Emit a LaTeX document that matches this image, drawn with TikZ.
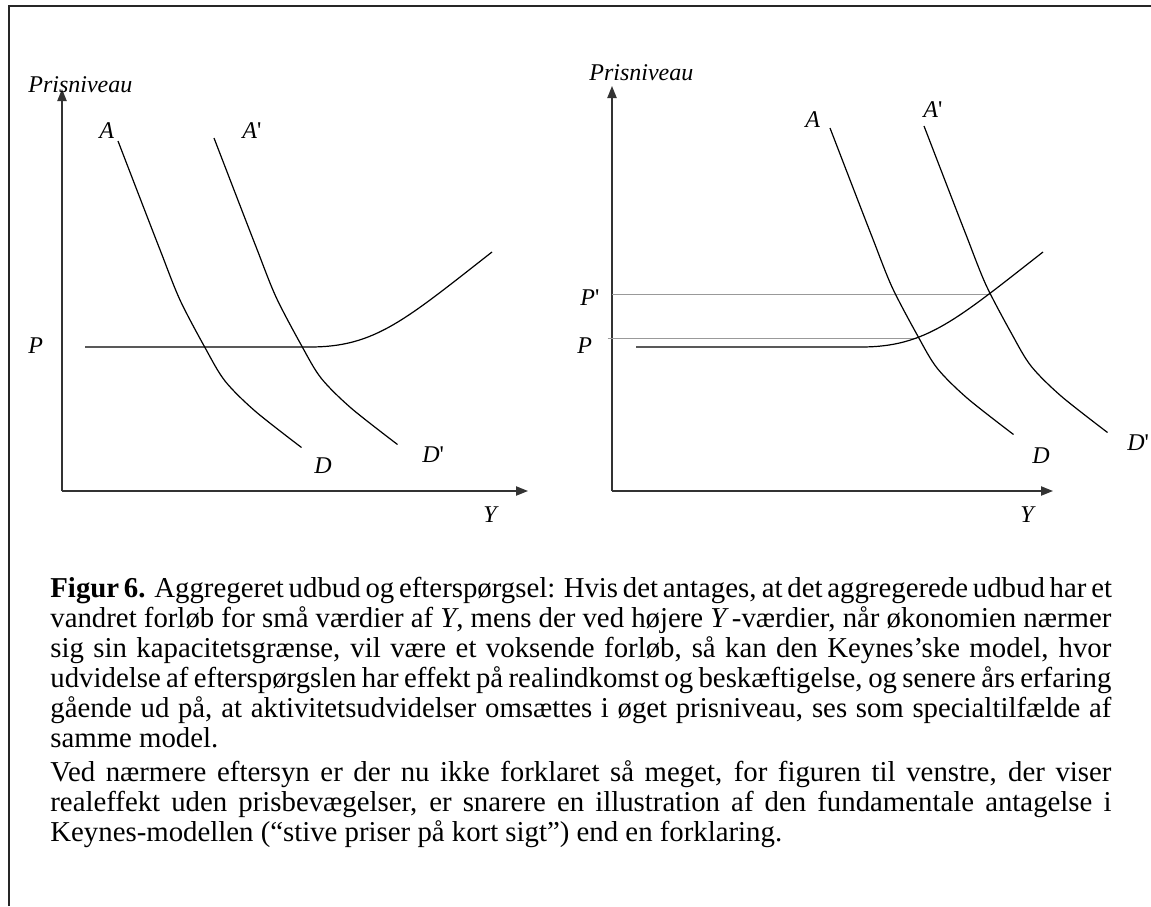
\documentclass[tikz,border=0pt]{standalone}
\usepackage{fontspec}
\setmainfont{Liberation Serif}
\newfontfamily\labfont{Liberation Serif}
\usetikzlibrary{arrows.meta}
\newcommand\pr{\textup{'}}
\begin{document}
\begin{tikzpicture}[x=0.5pt,y=-0.5pt,
  frameline/.style={line width=1pt,draw=black!85},
  axis/.style={line width=0.8pt,draw=black!80,-{Triangle[length=6pt,width=4.6pt]}},
  curve/.style={line width=0.6pt,draw=black},
  guide/.style={line width=0.6pt,draw=black!40},
  lab/.style={inner sep=0pt,anchor=base west,font=\fontsize{12}{14}\selectfont\labfont\itshape},
  capline/.style={inner sep=0pt,anchor=base west,font=\fontsize{14.4}{15}\selectfont}]
\useasboundingbox (0,0) rectangle (1151,906);
% frame (top and left edges)
\coordinate (F1) at (9,906);
\coordinate (F2) at (9,6);
\coordinate (F3) at (1151,6);
\draw[frameline] (F1) -- (F2) -- (F3);

% ---------- left diagram ----------
\coordinate (O1) at (62,491);
\coordinate (T1) at (62,89);
\coordinate (X1) at (528,491);
\draw[axis] (O1) -- (T1);
\draw[axis] (O1) -- (X1);
\node[lab] (prisL) at (28,92) {Prisniveau};
\node[lab] (PL) at (28,353) {P};
\node[lab] (YL) at (483,522) {Y};
\node[lab] (AL) at (99,138) {A};
\node[lab] (A2L) at (242,138) {A\pr};
\node[lab] (DL) at (314,473) {D};
\node[lab] (D2L) at (422,462) {D\pr};
% AD curves
\draw[curve,shift={(118,141)}] plot[smooth,tension=0.5] coordinates {(0,0) (23.5,61) (42.5,110) (62,159) (87.5,207.5) (107,240) (137,270) (183.5,306.5)};
\draw[curve,shift={(214,138)}] plot[smooth,tension=0.5] coordinates {(0,0) (23.5,61) (42.5,110) (62,159) (87.5,207.5) (107,240) (137,270) (183.5,306.5)};
% AS curve
\coordinate (S1a) at (85,347);
\coordinate (S1b) at (310,347);
\coordinate (S1c) at (492,252);
\draw[curve] (S1a) -- (S1b) .. controls (375,347) and (405,320) .. (S1c);

% ---------- right diagram ----------
\coordinate (O2) at (612,491);
\coordinate (T2) at (612,86);
\coordinate (X2) at (1053,491);
\draw[axis] (O2) -- (T2);
\draw[axis] (O2) -- (X2);
\node[lab] (prisR) at (589,80) {Prisniveau};
\node[lab] (P2R) at (580,305) {P\pr};
\node[lab] (PR) at (577,353) {P};
\node[lab] (YR) at (1020,522) {Y};
\node[lab] (AR) at (805,127) {A};
\node[lab] (A2R) at (923,117) {A\pr};
\node[lab] (DR) at (1032,463) {D};
\node[lab] (D2R) at (1127,450) {D\pr};
% guide lines
\coordinate (G1) at (612,294.5);
\coordinate (E2) at (990,294.5);
\coordinate (G2) at (607.5,338.5);
\coordinate (E1) at (917,338.5);
\draw[guide] (G1) -- (E2);
\draw[guide] (G2) -- (E1);
% AD curves
\draw[curve,shift={(830,128)}] plot[smooth,tension=0.5] coordinates {(0,0) (23.5,61) (42.5,110) (62,159) (87.5,207.5) (107,240) (137,270) (183.5,306.5)};
\draw[curve,shift={(924,126)}] plot[smooth,tension=0.5] coordinates {(0,0) (23.5,61) (42.5,110) (62,159) (87.5,207.5) (107,240) (137,270) (183.5,306.5)};
% AS curve
\coordinate (S2a) at (636,347);
\coordinate (S2b) at (861,347);
\coordinate (S2c) at (1043,252);
\draw[curve] (S2a) -- (S2b) .. controls (926,347) and (956,320) .. (S2c);

% ---------- caption ----------
\node[capline] (c1) at (50,597) {\hbox to 530.5pt{\textbf{Figur 6.} Aggregeret udbud og efterspørgsel: Hvis det antages, at det aggregerede udbud har et}};
\node[capline] (c2) at (50,627) {\hbox to 530.5pt{vandret forløb for små værdier af \textit{Y}, mens der ved højere \textit{Y}\kern1.5pt-værdier, når økonomien nærmer}};
\node[capline] (c3) at (50,657) {\hbox to 530.5pt{sig sin kapacitetsgrænse, vil være et voksende forløb, så kan den Keynes’ske model, hvor}};
\node[capline] (c4) at (50,687) {\hbox to 530.5pt{udvidelse af efterspørgslen har effekt på realindkomst og beskæftigelse, og senere års erfaring}};
\node[capline] (c5) at (50,717) {\hbox to 530.5pt{gående ud på, at aktivitetsudvidelser omsættes i øget prisniveau, ses som specialtilfælde af}};
\node[capline] (c6) at (50,747) {samme model.};
\node[capline] (c7) at (50,781.5) {\hbox to 530.5pt{Ved nærmere eftersyn er der nu ikke forklaret så meget, for figuren til venstre, der viser}};
\node[capline] (c8) at (50,811) {\hbox to 530.5pt{realeffekt uden prisbevægelser, er snarere en illustration af den fundamentale antagelse i}};
\node[capline] (c9) at (50,841) {Keynes-modellen (“stive priser på kort sigt”) end en forklaring.};
\end{tikzpicture}
\end{document}
